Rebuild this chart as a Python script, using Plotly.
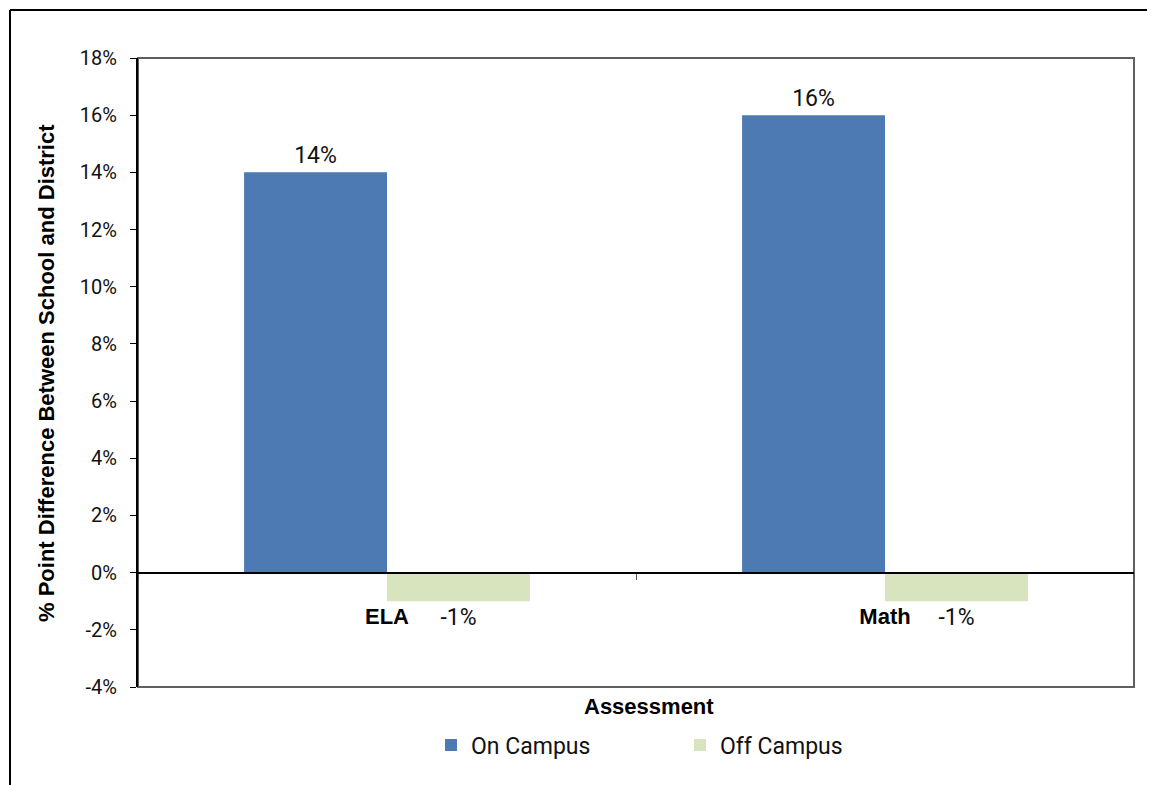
import plotly.graph_objects as go

# ── data ──────────────────────────────────────────────────────────────
categories = ["ELA", "Math"]
on_campus = [0.14, 0.16]
off_campus = [-0.01, -0.01]
series_names = ["On Campus", "Off Campus"]
y_tick_vals = [-0.04, -0.02, 0.0, 0.02, 0.04, 0.06, 0.08, 0.10, 0.12, 0.14, 0.16, 0.18]
y_tick_text = ["-4%", "-2%", "0%", "2%", "4%", "6%", "8%", "10%", "12%", "14%", "16%", "18%"]

NARROW = "Liberation Sans Narrow, Roboto, sans-serif"
BOLD = "Liberation Sans, Arial, sans-serif"
BLUE = "#4E7AB4"
GREEN = "#D7E4BD"

# page sits 8px in from the window corner (body margin)
OFF = 8
W, H = 1155 - OFF, 785 - OFF
L, R, T, B = 138 - OFF, 21, 58 - OFF, 98
PW, PH = W - L - R, H - T - B


def px_x(px):
    # page pixel -> paper fraction
    return (px - OFF - L) / PW


def px_y(py):
    return (H - B - (py - OFF)) / PH


fig = go.Figure()
for name, vals, color in [(series_names[0], on_campus, BLUE),
                          (series_names[1], off_campus, GREEN)]:
    fig.add_trace(go.Bar(
        x=categories,
        y=vals,
        name=name,
        marker=dict(color=color, line=dict(width=0)),
        text=[f"{v * 100:.0f}%" for v in vals],
        textposition="outside",
        textfont=dict(family=NARROW, size=23, color="#111111"),
        cliponaxis=False,
    ))

fig.update_layout(
    width=W, height=H,
    margin=dict(l=L, r=R, t=T, b=B),
    paper_bgcolor="white",
    plot_bgcolor="white",
    barmode="group",
    bargap=0.426,
    bargroupgap=0,
    showlegend=True,
    legend=dict(
        orientation="h",
        x=px_x(431), xanchor="left",
        y=px_y(745), yanchor="middle",
        font=dict(family=NARROW, size=23, color="#111111"),
        entrywidth=204,
        bgcolor="rgba(0,0,0,0)",
    ),
    xaxis=dict(
        anchor="free",
        position=4 / 22,
        showline=True, linecolor="black", linewidth=2,
        ticks="outside", ticklen=6, tickcolor="#555555", tickwidth=1,
        tickson="boundaries",
        ticklabelstandoff=24,
        tickfont=dict(family=BOLD, size=22, color="black", weight="bold"),
        showgrid=False,
        zeroline=False,
    ),
    yaxis=dict(
        range=[-0.04, 0.18],
        tickmode="array",
        tickvals=y_tick_vals,
        ticktext=y_tick_text,
        showline=True, linecolor="black", linewidth=2,
        ticks="outside", ticklen=6, tickcolor="black",
        ticklabelstandoff=9,
        tickfont=dict(family=NARROW, size=20, color="#111111"),
        showgrid=False,
        zeroline=True, zerolinecolor="black", zerolinewidth=2,
    ),
)

# plot area border (gray) and outer frame
fig.add_shape(type="rect", xref="paper", yref="paper", x0=0, x1=1, y0=0, y1=1,
              line=dict(color="#5F5F5F", width=2), layer="below")
fig.add_shape(type="line", xref="paper", yref="paper",
              x0=px_x(10), x1=px_x(1165), y0=px_y(10), y1=px_y(10),
              line=dict(color="black", width=2))
fig.add_shape(type="line", xref="paper", yref="paper",
              x0=px_x(10), x1=px_x(10), y0=px_y(10), y1=px_y(795),
              line=dict(color="black", width=2))

fig.add_annotation(text="Assessment", xref="paper", yref="paper",
                   x=px_x(649), y=px_y(706), showarrow=False,
                   xanchor="center", yanchor="middle",
                   font=dict(family=BOLD, size=22, color="black", weight="bold"))
fig.add_annotation(text="% Point Difference Between School and District",
                   xref="paper", yref="paper", textangle=-90,
                   x=px_x(46), y=px_y(373), showarrow=False,
                   xanchor="center", yanchor="middle",
                   font=dict(family=BOLD, size=22, color="black", weight="bold"))

fig.write_html("out.html")
